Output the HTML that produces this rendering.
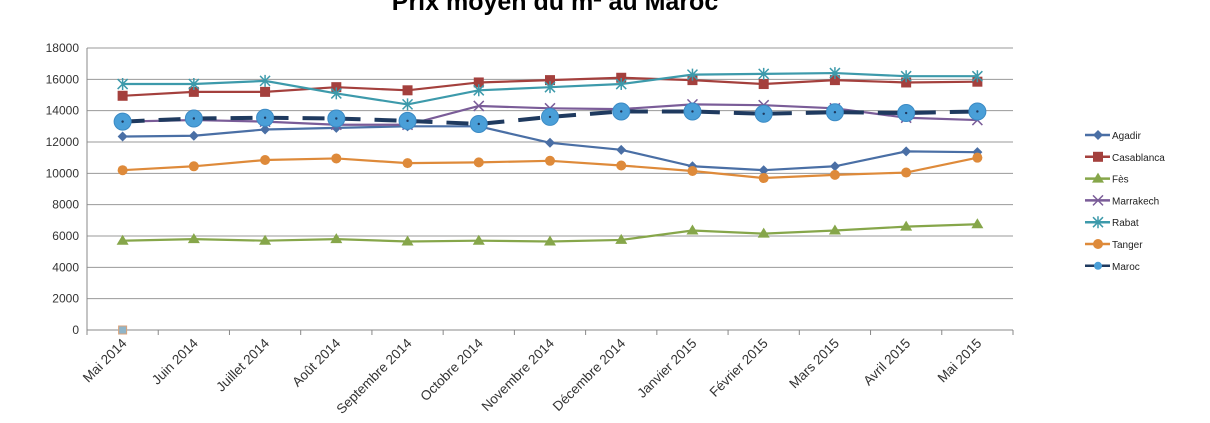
<!DOCTYPE html>
<html><head><meta charset="utf-8"><style>
body{margin:0;background:#fff;}
svg{display:block;font-family:"Liberation Sans",sans-serif;}
</style></head><body>
<svg id="chart" width="1210" height="423">
<text x="555" y="10" text-anchor="middle" font-size="25" font-weight="bold" fill="#000">Prix moyen du m² au Maroc</text>
<g id="grid"></g><g id="axes"></g><g id="series"></g><g id="legend"></g>
</svg>
<script>
const categories=["Mai 2014","Juin 2014","Juillet 2014","Août 2014","Septembre 2014","Octobre 2014","Novembre 2014","Décembre 2014","Janvier 2015","Février 2015","Mars 2015","Avril 2015","Mai 2015"];
const yTicks=[0,2000,4000,6000,8000,10000,12000,14000,16000,18000];
const agadir=[12350,12400,12800,12900,13000,13000,11950,11500,10450,10200,10450,11400,11350];
const casablanca=[14950,15200,15200,15500,15300,15800,15950,16100,15950,15700,15950,15800,15850];
const fes=[5700,5800,5700,5800,5650,5700,5650,5750,6350,6150,6350,6600,6750];
const marrakech=[13300,13400,13300,13100,13100,14300,14150,14100,14400,14350,14150,13550,13400];
const rabat=[15700,15700,15900,15100,14400,15300,15500,15700,16300,16350,16400,16200,16200];
const tanger=[10200,10450,10850,10950,10650,10700,10800,10500,10150,9700,9900,10050,11000];
const maroc=[13300,13500,13550,13500,13350,13150,13600,13950,13950,13800,13900,13850,13950];
const seriesNames=["Agadir","Casablanca","Fès","Marrakech","Rabat","Tanger","Maroc"];
const NS="http://www.w3.org/2000/svg";
const L=87,R=1013,T=48,B=330,yMax=18000;
const step=(R-L)/categories.length;
const x=i=>L+step*(i+0.5);
const y=v=>B-(v/yMax)*(B-T);
function mk(tag,attrs,parent){const e=document.createElementNS(NS,tag);for(const k in attrs)e.setAttribute(k,attrs[k]);parent.appendChild(e);return e;}
const grid=document.getElementById('grid'),axes=document.getElementById('axes'),sg=document.getElementById('series'),lg=document.getElementById('legend');
yTicks.forEach(v=>{
 const g=mk('line',{x1:L,x2:R,y1:y(v),y2:y(v),stroke:v===0?'#888':'#999','stroke-width':1},grid);
 
 
 const t=mk('text',{x:79,y:y(v)+4,'text-anchor':'end','font-size':12,fill:'#333'},axes);
 t.textContent=v;
 
 
});
const ya=mk('line',{x1:L,x2:L,y1:T,y2:B+4,stroke:'#888'},axes);


for(let i=0;i<=categories.length;i++){
 const tk=mk('line',{x1:L+step*i,x2:L+step*i,y1:B,y2:B+5,stroke:'#888'},axes);
 
 
}
categories.forEach((c,i)=>{
 const px=x(i)+5,py=B+14;
 const t=mk('text',{x:px,y:py,'text-anchor':'end','font-size':13.5,fill:'#333',transform:`rotate(-45 ${px} ${py})`},axes);
 t.textContent=c;
 
 
});
const styles=[
 {d:agadir,c:'#4a6fa5',m:'diamond'},
 {d:casablanca,c:'#a4403d',m:'square'},
 {d:fes,c:'#86a64a',m:'triangle'},
 {d:marrakech,c:'#7a5c98',m:'x'},
 {d:rabat,c:'#3d9aab',m:'star'},
 {d:tanger,c:'#de8a3a',m:'circle'},
 {d:maroc,c:'#1f3a5f',m:'big',dash:'22,14',w:4}
];
function marker(m,cx,cy,c,parent){
 let e;
 if(m==='diamond')e=mk('polygon',{points:`${cx},${cy-5} ${cx+5},${cy} ${cx},${cy+5} ${cx-5},${cy}`,fill:c},parent);
 else if(m==='square')e=mk('rect',{x:cx-5,y:cy-5,width:10,height:10,fill:c},parent);
 else if(m==='triangle')e=mk('polygon',{points:`${cx},${cy-6} ${cx+6},${cy+4} ${cx-6},${cy+4}`,fill:c},parent);
 else if(m==='x')e=mk('path',{d:`M${cx-5} ${cy-5}L${cx+5} ${cy+5}M${cx-5} ${cy+5}L${cx+5} ${cy-5}`,stroke:c,'stroke-width':1.5},parent);
 else if(m==='star')e=mk('path',{d:`M${cx-5} ${cy-5}L${cx+5} ${cy+5}M${cx-5} ${cy+5}L${cx+5} ${cy-5}M${cx} ${cy-6}L${cx} ${cy+6}`,stroke:c,'stroke-width':1.5},parent);
 else if(m==='circle')e=mk('circle',{cx:cx,cy:cy,r:5,fill:c},parent);
 else {e=mk('circle',{cx:cx,cy:cy,r:8.5,fill:'#4a9fd8',stroke:'#3b8ac4','stroke-width':1},parent);mk('circle',{cx:cx,cy:cy,r:1.2,fill:'#1f3a5f'},parent);}
 return e;
}
styles.forEach((s,k)=>{
 const g=mk('g',{},sg);
 
 
 const pts=s.d.map((v,i)=>x(i)+','+y(v)).join(' ');
 const pl=mk('polyline',{points:pts,fill:'none',stroke:s.c,'stroke-width':s.w||2.2},g);
 if(s.dash)pl.setAttribute('stroke-dasharray',s.dash);
 
 
 s.d.forEach((v,i)=>{
  const m=marker(s.m,x(i),y(v),s.c,g);
  
  
 });
 const ly=135+k*21.8;
 const lgi=mk('g',{},lg);
 
 
 mk('line',{x1:1085,x2:1110,y1:ly,y2:ly,stroke:s.c,'stroke-width':2.5},lgi);
 if(s.m==='big'){mk('circle',{cx:1098,cy:ly,r:4,fill:'#4a9fd8'},lgi);}
 else marker(s.m,1098,ly,s.c,lgi);
 const t=mk('text',{x:1112,y:ly+4,'font-size':10,fill:'#222'},lgi);
 t.textContent=seriesNames[k];
});
const zs=mk('rect',{x:x(0)-4,y:B-4,width:8,height:8,fill:'#8fb4c8',stroke:'#d9a27a'},sg);


</script>
</body></html>
